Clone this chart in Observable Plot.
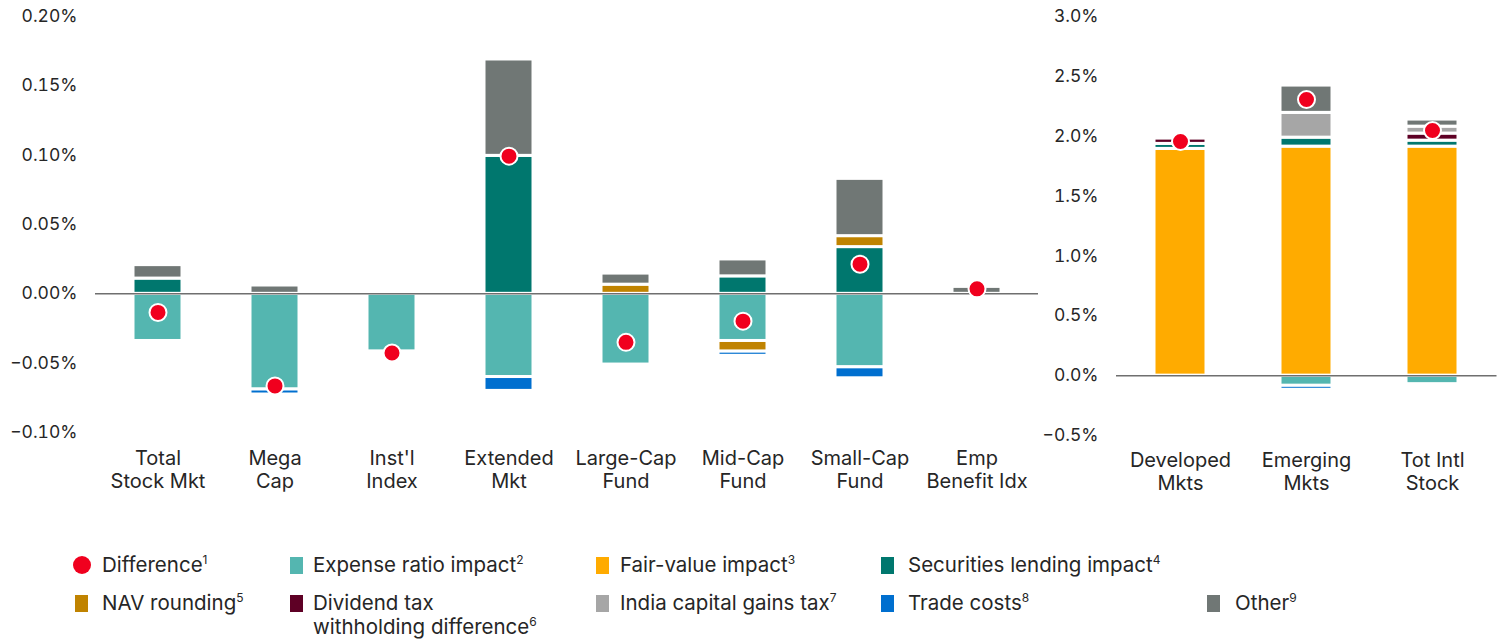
<!DOCTYPE html>
<html>
<head>
<meta charset="utf-8">
<script src="https://cdn.jsdelivr.net/npm/d3@7"></script>
<script src="https://cdn.jsdelivr.net/npm/@observablehq/plot@0.6"></script>
<style>
  html, body { margin: 0; padding: 0; background: #fff; }
  #wrap { position: relative; width: 1505px; height: 640px; font-family: Inter, Lato, sans-serif; color: #262626; overflow: hidden; }
  #left { position: absolute; left: 0; top: 0; }
  #right { position: absolute; left: 1040px; top: 0; }
  .item { position: absolute; display: flex; align-items: flex-start; font-size: 20.5px; line-height: 24px; white-space: nowrap; }
  .sw { width: 13px; height: 17px; flex: none; margin-top: 3.5px; }
  .dot { width: 18px; height: 18px; border-radius: 50%; flex: none; margin-top: 3px; }
  sup { font-size: 12px; line-height: 0; vertical-align: 0.7em; }
</style>
</head>
<body>
<div id="wrap">
  <div id="left"></div>
  <div id="right"></div>
  <div id="legend"></div>
</div>
<script>
// ---------- data ----------
const seriesNames = ["Expense ratio impact", "Fair-value impact", "Securities lending impact", "NAV rounding",
  "Dividend tax withholding difference", "India capital gains tax", "Trade costs", "Other"];
const seriesColors = ["#54b6b0", "#ffab00", "#00776e", "#c08300", "#5e0025", "#a6a6a6", "#006fcf", "#707775"];
const diffColor = "#f0001e";

// Left panel (percent)
const leftCats = ["Total\nStock Mkt", "Mega\nCap", "Inst'l\nIndex", "Extended\nMkt", "Large-Cap\nFund", "Mid-Cap\nFund", "Small-Cap\nFund", "Emp\nBenefit Idx"];
const leftExpense    = [-0.034, -0.069, -0.0415, -0.060, -0.051, -0.034, -0.053, 0];
const leftFairValue  = [0, 0, 0, 0, 0, 0, 0, 0];
const leftSecLending = [0.011, 0, 0, 0.0995, 0, 0.0126, 0.0337, 0];
const leftNav        = [0, 0, 0, 0, 0.0066, -0.0077, 0.0079, 0];
const leftDividend   = [0, 0, 0, 0, 0, 0, 0, 0];
const leftIndia      = [0, 0, 0, 0, 0, 0, 0, 0];
const leftTrade      = [0, -0.0036, 0, -0.010, 0, -0.003, -0.0079, 0];
const leftOther      = [0.0097, 0.006, 0, 0.0695, 0.008, 0.0122, 0.0413, 0.005];
const leftDiff       = [-0.0134, -0.0664, -0.0427, 0.0993, -0.035, -0.0197, 0.0214, 0.0036];
const leftTicks = [-0.10, -0.05, 0, 0.05, 0.10, 0.15, 0.20];

// Right panel (percent)
const rightCats = ["Developed\nMkts", "Emerging\nMkts", "Tot Intl\nStock"];
const rightExpense    = [0, -0.085, -0.071];
const rightFairValue  = [1.894, 1.913, 1.913];
const rightSecLending = [0.042, 0.075, 0.050];
const rightNav        = [0, 0, 0];
const rightDividend   = [0.044, 0, 0.059];
const rightIndia      = [0, 0.207, 0.058];
const rightTrade      = [0, -0.033, 0];
const rightOther      = [0, 0.228, 0.059];
const rightDiff       = [1.956, 2.307, 2.048];
const rightTicks = [-0.5, 0, 0.5, 1.0, 1.5, 2.0, 2.5, 3.0];

// ---------- build rows ----------
function buildRows(cats, lists) {
  const rows = [];
  lists.forEach((arr, si) => {
    arr.forEach((v, ci) => { if (v !== 0) rows.push({cat: cats[ci], series: seriesNames[si], value: v}); });
  });
  return rows;
}
const leftRows = buildRows(leftCats, [leftExpense, leftFairValue, leftSecLending, leftNav, leftDividend, leftIndia, leftTrade, leftOther]);
const rightRows = buildRows(rightCats, [rightExpense, rightFairValue, rightSecLending, rightNav, rightDividend, rightIndia, rightTrade, rightOther]);
const leftDiffRows = leftCats.map((c, i) => ({cat: c, value: leftDiff[i]}));
const rightDiffRows = rightCats.map((c, i) => ({cat: c, value: rightDiff[i]}));

const minus = s => s.replace("-", "\u2212");

function panel({cats, rows, diffRows, ticks, yDomain, fmt, width, marginLeft, marginRight, marginBottom, tickPaddingX}) {
  return Plot.plot({
    width, height: 500,
    marginLeft, marginRight, marginTop: 16, marginBottom,
    style: {fontFamily: "Inter, Lato, sans-serif", fontSize: "20px", color: "#262626", background: "transparent", overflow: "visible"},
    x: {domain: cats, paddingInner: 0.585, paddingOuter: 0.2925, axis: null},
    y: {domain: yDomain, axis: null},
    color: {domain: seriesNames, range: seriesColors},
    marks: [
      Plot.axisY({ticks, tickSize: 0, tickPadding: 18, tickFormat: d => minus(fmt(d)), fontSize: 17.5, label: null}),
      Plot.axisX({tickSize: 0, tickPadding: tickPaddingX, lineHeight: 1.15, fontSize: 20, label: null}),
      Plot.barY(rows, Plot.stackY({x: "cat", y: "value", fill: "series", stroke: "white", strokeWidth: 3})),
      Plot.ruleY([0], {stroke: "#6f6f6f", strokeWidth: 1.5}),
      Plot.dot(diffRows, {x: "cat", y: "value", r: 8.5, fill: diffColor, stroke: "white", strokeWidth: 2})
    ]
  });
}

document.getElementById("left").append(panel({
  cats: leftCats, rows: leftRows, diffRows: leftDiffRows, ticks: leftTicks,
  yDomain: [-0.10, 0.20], fmt: d => d.toFixed(2) + "%",
  width: 1040, marginLeft: 95, marginRight: 2, marginBottom: 68, tickPaddingX: 16
}));
document.getElementById("right").append(panel({
  cats: rightCats, rows: rightRows, diffRows: rightDiffRows, ticks: rightTicks,
  yDomain: [-0.5, 3.0], fmt: d => d.toFixed(1) + "%",
  width: 465, marginLeft: 76, marginRight: 8.5, marginBottom: 65, tickPaddingX: 15
}));

// ---------- legend ----------
const legendItems = [
  {label: "Difference", sup: "1", color: diffColor, dot: true, x: 73, tx: 102, y: 553},
  {label: "Expense ratio impact", sup: "2", color: seriesColors[0], x: 290, tx: 313, y: 553},
  {label: "Fair-value impact", sup: "3", color: seriesColors[1], x: 596, tx: 620, y: 553},
  {label: "Securities lending impact", sup: "4", color: seriesColors[2], x: 881, tx: 908, y: 553},
  {label: "NAV rounding", sup: "5", color: seriesColors[3], x: 75, tx: 102, y: 591},
  {label: "Dividend tax<br>withholding difference", sup: "6", color: seriesColors[4], x: 290, tx: 313, y: 591},
  {label: "India capital gains tax", sup: "7", color: seriesColors[5], x: 596, tx: 620, y: 591},
  {label: "Trade costs", sup: "8", color: seriesColors[6], x: 881, tx: 908, y: 591},
  {label: "Other", sup: "9", color: seriesColors[7], x: 1207, tx: 1235, y: 591}
];
const lg = document.getElementById("legend");
legendItems.forEach(it => {
  const d = document.createElement("div");
  d.className = "item";
  d.style.left = it.x + "px";
  d.style.top = it.y + "px";
  const w = it.dot ? 18 : 13;
  d.innerHTML = `<span class="${it.dot ? "dot" : "sw"}" style="background:${it.color};margin-right:${it.tx - it.x - w}px"></span><span>${it.label}<sup>${it.sup}</sup></span>`;
  lg.append(d);
});
</script>
</body>
</html>
